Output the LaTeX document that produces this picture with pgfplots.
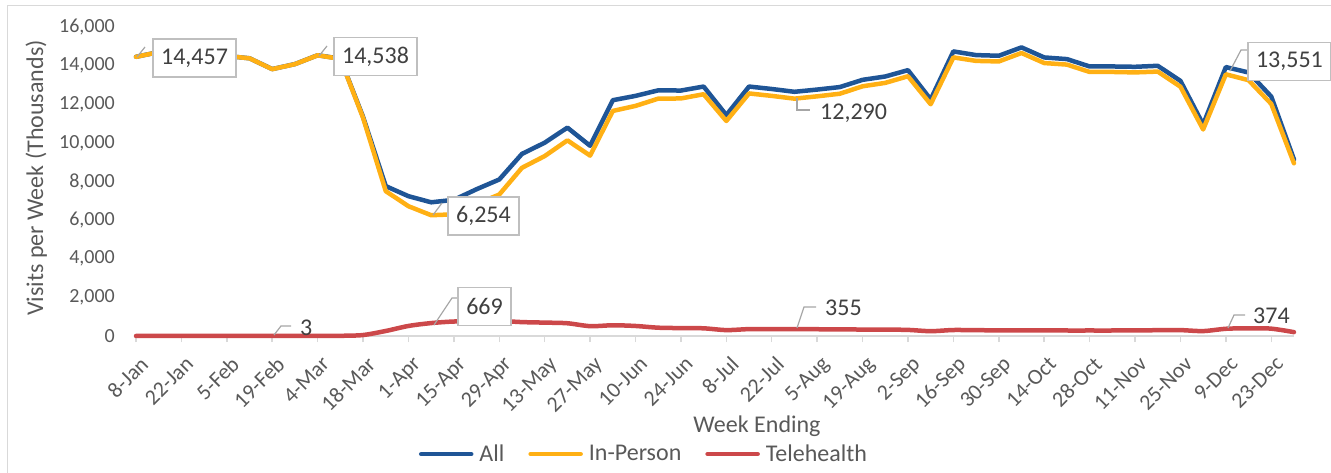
\documentclass[border=0pt]{standalone}
\usepackage{pgfplots}
\usepackage{pgfplotstable}
\pgfplotsset{compat=1.18}
\usepackage{fontspec}
\setmainfont{Carlito}
\definecolor{cAll}{RGB}{31,85,150}
\definecolor{cIP}{RGB}{255,176,20}
\definecolor{cTH}{RGB}{204,72,74}
\definecolor{txt}{RGB}{89,89,89}
\definecolor{lbl}{RGB}{64,64,64}
\definecolor{axl}{RGB}{217,217,217}
\definecolor{brd}{RGB}{191,191,191}
\definecolor{ldr}{RGB}{166,166,166}
\newcommand{\tickfont}{\fontsize{20}{24}\selectfont}
\newcommand{\xtickfont}{\fontsize{22}{26}\selectfont}
\newcommand{\bigfont}{\fontsize{24}{28}\selectfont}

\pgfplotstableread{
i all inp tele
0 14457 14455 2
1 14700 14698 2
2 14620 14618 2
3 14560 14558 2
4 14500 14498 2
5 14380 14378 2
6 13820 13817 3
7 14080 14077 3
8 14538 14534 4
9 14360 14350 10
10 11350 11300 50
11 7760 7500 260
12 7240 6720 520
13 6923 6254 669
14 7050 6300 750
15 7600 6840 760
16 8104 7325 779
17 9430 8710 720
18 10009 9316 693
19 10790 10130 660
20 9850 9340 510
21 12210 11654 556
22 12433 11914 519
23 12720 12290 430
24 12710 12300 410
25 12917 12519 398
26 11440 11134 306
27 12917 12560 357
28 12790 12433 357
29 12645 12290 355
30 12760 12410 350
31 12890 12545 345
32 13264 12930 334
33 13437 13107 330
34 13766 13450 316
35 12250 12000 250
36 14736 14426 310
37 14545 14245 300
38 14511 14216 295
39 14944 14654 290
40 14424 14134 290
41 14338 14053 285
42 13957 13672 285
43 13957 13672 285
44 13939 13649 290
45 13991 13691 300
46 13212 12907 305
47 10950 10695 255
48 13925 13551 374
49 13645 13245 400
50 12398 12018 380
51 9143 8943 200
}\data

\begin{document}
\begin{tikzpicture}
\path (0,0) rectangle (1331pt,472pt);
\begin{axis}[
  at={(136pt,136pt)}, anchor=south west,
  scale only axis, width=1158pt, height=309pt,
  xmin=0, xmax=51, ymin=0, ymax=16000,
  clip=false,
  scaled y ticks=false,
  axis x line*=bottom, axis y line*=left,
  y axis line style={draw=none},
  x axis line style={draw=axl, line width=1.5pt},
  xtick={0,2,...,50},
  xticklabels={8-Jan,22-Jan,5-Feb,19-Feb,4-Mar,18-Mar,1-Apr,15-Apr,29-Apr,13-May,27-May,10-Jun,24-Jun,8-Jul,22-Jul,5-Aug,19-Aug,2-Sep,16-Sep,30-Sep,14-Oct,28-Oct,11-Nov,25-Nov,9-Dec,23-Dec},
  x tick style={draw=axl, line width=1.5pt},
  tick align=outside, major tick length=6pt,
  ytick={0,2000,4000,6000,8000,10000,12000,14000,16000},
  yticklabels={0,{2,000},{4,000},{6,000},{8,000},{10,000},{12,000},{14,000},{16,000}},
  y tick style={draw=none},
  y tick label style={font=\tickfont, text=txt, anchor=east, inner sep=0pt, xshift=-15pt},
  x tick label style={font=\xtickfont, text=txt, inner sep=0pt, xshift=3pt, yshift=-13pt, rotate=45, anchor=north east},
  legend style={at={(0.4387,-0.382)}, anchor=center, draw=none, fill=none,
    font=\bigfont, text=txt, legend columns=3,
    /tikz/every odd column/.append style={column sep=4pt},
    /tikz/every even column/.append style={column sep=22pt}},
  legend cell align=left,
]
\addplot[cAll, line width=4.5pt, line join=round, line cap=round,
  legend image code/.code={\draw[cAll, line width=4.5pt, line cap=round] (0pt,0pt) -- (50pt,0pt);}]
  table[x=i, y=all]{\data};
\addlegendentry{All}
\addplot[cIP, line width=4.5pt, line join=round, line cap=round,
  legend image code/.code={\draw[cIP, line width=4.5pt, line cap=round] (0pt,0pt) -- (50pt,0pt);}]
  table[x=i, y=inp]{\data};
\addlegendentry{In-Person}
\addplot[cTH, line width=4.5pt, line join=round, line cap=round, smooth,
  legend image code/.code={\draw[cTH, line width=4.5pt, line cap=round] (0pt,0pt) -- (50pt,0pt);}]
  table[x=i, y=tele]{\data};
\addlegendentry{Telehealth}
\end{axis}
\begin{scope}[yshift=472pt, x=1pt, y=-1pt]
  % chart border
  \draw[axl, line width=1pt] (7,480) -- (7,6) -- (1335,6);
  % axis titles
  \node[rotate=90, anchor=base, text=txt, font=\bigfont, inner sep=0pt] at (43,178) {Visits per Week (Thousands)};
  \node[anchor=base, text=txt, font=\bigfont, inner sep=0pt] at (757,432) {Week Ending};
  % leaders
  \begin{scope}[ldr, line width=1.2pt]
    \draw (137,57) -- (145,47);
    \draw (319,56) -- (327,46);
    \draw (433,215) -- (442,203);
    \draw (434,325) -- (452,298) -- (458,298);
    \draw (797,98) -- (797,110) -- (810,110);
    \draw (1230,71) -- (1241,50) -- (1248,50);
    \draw (274,335) -- (281,326) -- (291,326);
    \draw (797,328) -- (804,307) -- (816,307);
    \draw (1228,328) -- (1234,315) -- (1245,315);
  \end{scope}
  % boxed labels
  \tikzset{dl/.style={draw=brd, fill=white, line width=1.2pt, text=lbl, font=\bigfont, inner sep=0pt, minimum height=38pt}}
  \node[dl, minimum width=83pt] at (194.5,58) {14,457};
  \node[dl, minimum width=83pt] at (375.5,56.5) {14,538};
  \node[dl, minimum width=71pt] at (483.4,216) {6,254};
  \node[dl, minimum width=53pt] at (484.5,306.7) {669};
  \node[dl, minimum width=83pt] at (1289.4,61.4) {13,551};
  % plain labels
  \tikzset{pl/.style={text=lbl, font=\bigfont, inner sep=0pt, anchor=base west}}
  \node[pl] at (820,119.3) {12,290};
  \node[pl] at (825,315) {355};
  \node[pl] at (1253,323.3) {374};
  \node[pl] at (300,335) {3};
\end{scope}
\pgfresetboundingbox
\path (0,0) rectangle (1331pt,472pt);
\end{tikzpicture}
\end{document}
